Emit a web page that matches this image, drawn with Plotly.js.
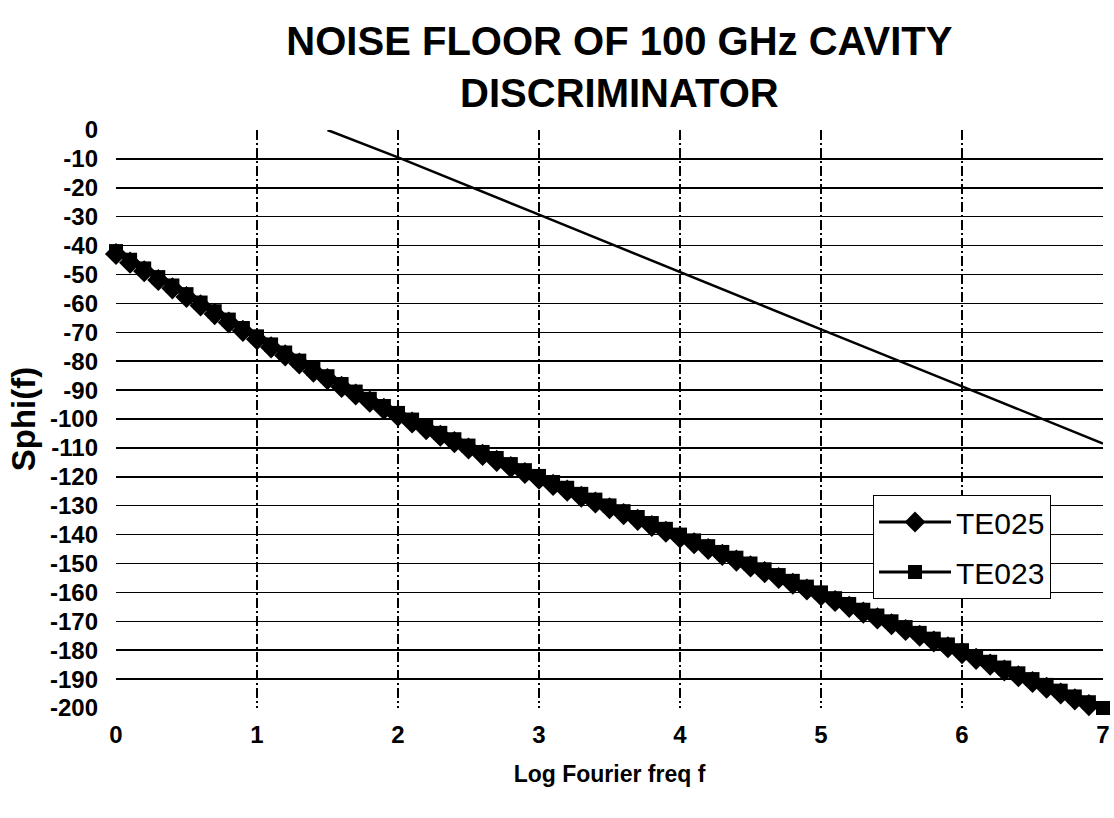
<!DOCTYPE html>
<html>
<head>
<meta charset="utf-8">
<script src="https://cdn.plot.ly/plotly-3.0.1.min.js"></script>
<style>html,body{margin:0;padding:0;background:#fff;}#chart{width:1114px;height:818px;}</style>
</head>
<body>
<div id="chart"></div>
<script>
// Log Fourier frequency (decades)
const logFreq = [0.0,0.1,0.2,0.3,0.4,0.5,0.6,0.7,0.8,0.9,
  1.0,1.1,1.2,1.3,1.4,1.5,1.6,1.7,1.8,1.9,
  2.0,2.1,2.2,2.3,2.4,2.5,2.6,2.7,2.8,2.9,
  3.0,3.1,3.2,3.3,3.4,3.5,3.6,3.7,3.8,3.9,
  4.0,4.1,4.2,4.3,4.4,4.5,4.6,4.7,4.8,4.9,
  5.0,5.1,5.2,5.3,5.4,5.5,5.6,5.7,5.8,5.9,
  6.0,6.1,6.2,6.3,6.4,6.5,6.6,6.7,6.8,6.9,7.0];

const te025 = [-42.9,-45.9,-48.9,-51.9,-54.8,-57.8,-60.7,-63.7,-66.6,-69.5,
  -72.4,-75.2,-78.0,-80.8,-83.6,-86.2,-88.9,-91.5,-94.0,-96.5,
  -98.9,-101.2,-103.5,-105.8,-108.0,-110.2,-112.4,-114.5,-116.6,-118.7,
  -120.7,-122.8,-124.8,-126.9,-128.9,-130.9,-132.9,-134.9,-137.0,-139.0,
  -141.0,-143.0,-145.0,-147.0,-149.0,-151.0,-153.0,-155.0,-157.0,-159.0,
  -161.0,-163.0,-165.0,-167.0,-169.0,-171.0,-173.0,-175.0,-177.0,-179.0,
  -181.0,-183.0,-185.0,-187.0,-189.0,-191.0,-193.0,-195.0,-197.0,-199.0,-201.0];

const te023 = [-41.9,-44.9,-47.9,-50.9,-53.8,-56.8,-59.7,-62.7,-65.6,-68.5,
  -71.4,-74.2,-77.0,-79.8,-82.6,-85.2,-87.9,-90.5,-93.0,-95.5,
  -97.9,-100.2,-102.5,-104.8,-107.0,-109.2,-111.4,-113.5,-115.6,-117.7,
  -119.7,-121.8,-123.8,-125.9,-127.9,-129.9,-131.9,-133.9,-136.0,-138.0,
  -140.0,-142.0,-144.0,-146.0,-148.0,-150.0,-152.0,-154.0,-156.0,-158.0,
  -160.0,-162.0,-164.0,-166.0,-168.0,-170.0,-172.0,-174.0,-176.0,-178.0,
  -180.0,-182.0,-184.0,-186.0,-188.0,-190.0,-192.0,-194.0,-196.0,-198.0,-200.0];

// upper straight line (no legend entry)
const upperX = [1.5,2,3,4,5,6,7];
const upperY = [0,-9.5,-29.3,-49.2,-69,-88.7,-108.5];

const yTicks = [0,-10,-20,-30,-40,-50,-60,-70,-80,-90,-100,-110,-120,-130,-140,-150,-160,-170,-180,-190,-200];
const xTicks = [0,1,2,3,4,5,6,7];

const FONT = "Liberation Sans, Arial, sans-serif";

const data = [
  {x: upperX, y: upperY, mode: 'lines', name: 'upper', showlegend: false,
   line: {color: '#000', width: 2.5}, hoverinfo: 'skip'},
  {x: logFreq, y: te025, mode: 'lines+markers', name: 'TE025', legendgroup: 'a',
   line: {color: '#000', width: 3}, marker: {symbol: 'diamond', size: 17, color: '#000'}, cliponaxis: false},
  {x: logFreq, y: te023, mode: 'lines+markers', name: 'TE023', legendgroup: 'b',
   line: {color: '#000', width: 3}, marker: {symbol: 'square', size: 14, color: '#000'}, cliponaxis: false}
];

const layout = {
  width: 1114, height: 818,
  paper_bgcolor: '#fff', plot_bgcolor: '#fff',
  margin: {l: 116, r: 11, t: 130, b: 110},
  font: {family: FONT, color: '#000'},
  title: {
    text: '<b>NOISE FLOOR OF 100 GHz CAVITY<br>DISCRIMINATOR</b>',
    font: {family: FONT, size: 40, color: '#000'},
    x: 0.51, xref: 'paper', xanchor: 'center',
    y: 0.933, yref: 'container', yanchor: 'top'
  },
  xaxis: {
    range: [0, 7], tickvals: xTicks, ticktext: xTicks.map(String),
    showgrid: true, gridcolor: '#000', gridwidth: 1.2, griddash: '10px,3px,2px,3px',
    zeroline: false, showline: false, ticks: '',
    tickfont: {family: FONT, size: 24, color: '#000', weight: 'bold'},
    ticklabelstandoff: 10,
    title: {text: '<b>Log Fourier freq f</b>', font: {family: FONT, size: 23, color: '#000'}, standoff: 18}
  },
  yaxis: {
    range: [-200, 0], tickvals: yTicks, ticktext: yTicks.map(String),
    showgrid: true, gridcolor: '#000', gridwidth: 1.5,
    zeroline: false, showline: false, ticks: '',
    tickfont: {family: FONT, size: 24, color: '#000', weight: 'bold'},
    ticklabelstandoff: 17,
    title: {text: '<b>Sphi(f)</b>', font: {family: FONT, size: 33, color: '#000'}, standoff: 4}
  },
  legend: {
    x: 0.767, y: 0.3685, xanchor: 'left', yanchor: 'top',
    bgcolor: '#fff', bordercolor: '#000', borderwidth: 1,
    font: {family: FONT, size: 30, color: '#000'},
    traceorder: 'grouped', tracegroupgap: 8, itemwidth: 72
  },
  showlegend: true
};

Plotly.newPlot('chart', data, layout, {displayModeBar: false, staticPlot: true});
</script>
</body>
</html>
